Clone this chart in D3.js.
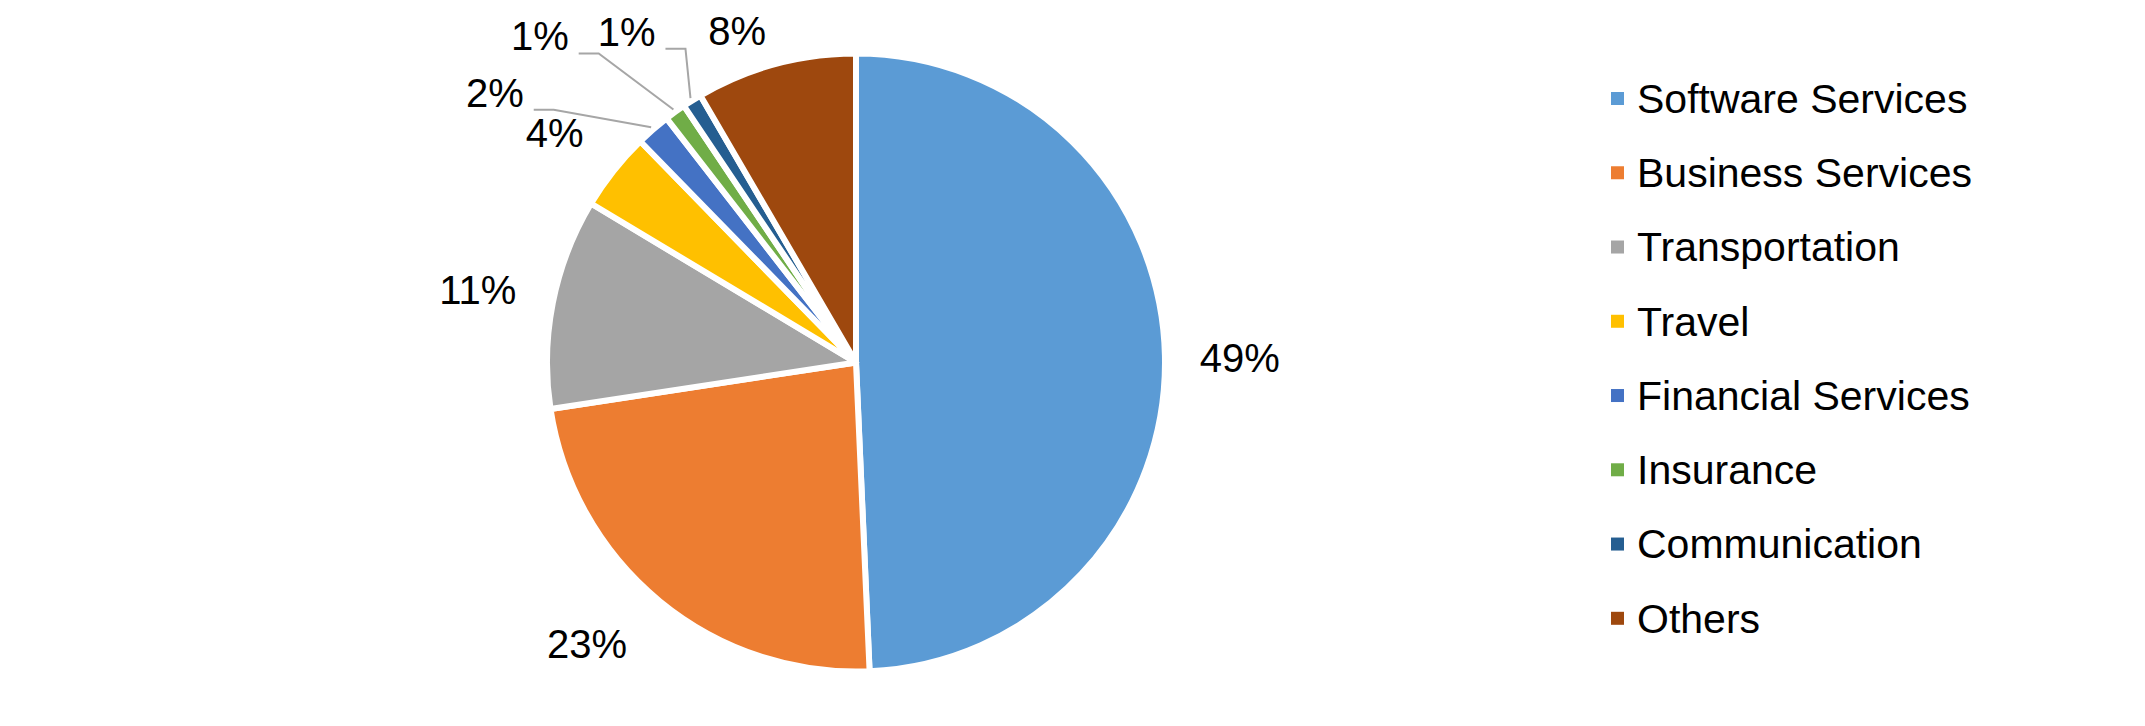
<!DOCTYPE html>
<html>
<head>
<meta charset="utf-8">
<script src="https://cdn.jsdelivr.net/npm/d3@7"></script>
<style>
	body{margin:0;background:#fff;}
	text{font-family:"Liberation Sans",Arial,Helvetica,sans-serif;fill:#000;}
</style>
</head>
<body>
<div id="chart"></div>
<script>
var categories = ["Software Services","Business Services","Transportation","Travel","Financial Services","Insurance","Communication","Others"];
var shares = [49.3,23.3,11.0,4.1,1.8,1.1,1.0,8.4];
var colors = ["#5B9BD5","#ED7D31","#A5A5A5","#FFC000","#4472C4","#70AD47","#255E91","#9E480E"];

// label spot relative to slice mid angle: [angle shift (deg), radius multiple]
var labelNudge = [[0.6,1.242],[4.3,1.26],[-0.3,1.246],[-1.0,1.227],[-12.2,1.459],[-8.3,1.47],[-2.7,1.303],[-4.6,1.141]];
var leaderFor = ["Financial Services","Insurance","Communication"];

var w = 2145, h = 726;
var cx = 856, cy = 362.5, r = 309;
var fontSize = 40;

var svg = d3.select("#chart")
	.append("svg")
	.attr("width",w)
	.attr("height",h);

var pieData = d3.pie()
	.sort(null)
	.value(function(d){ return d; })(shares);

var arc = d3.arc()
	.innerRadius(0)
	.outerRadius(r);

var pieG = svg.append("g")
	.attr("transform","translate(" + cx + "," + cy + ")");

pieG.selectAll(".slice")
	.data(pieData)
	.enter()
	.append("path")
	.attr("class","slice")
	.attr("d",arc)
	.attr("fill",function(d,i){ return colors[i]; })
	.attr("stroke","#fff")
	.attr("stroke-width",6)
	.attr("stroke-linejoin","round");

function polar(angle, rad){
	return [rad*Math.sin(angle), -rad*Math.cos(angle)];
}

// data labels
var labels = pieG.selectAll(".plabel")
	.data(pieData)
	.enter()
	.append("text")
	.attr("class","plabel")
	.attr("text-anchor","middle")
	.attr("dy","0.35em")
	.attr("font-size",fontSize)
	.each(function(d,i){
		var mid = (d.startAngle + d.endAngle)/2 + labelNudge[i][0]*Math.PI/180;
		var p = polar(mid, r*labelNudge[i][1]);
		d.lx = p[0];
		d.ly = p[1];
	})
	.attr("x",function(d){ return d.lx; })
	.attr("y",function(d){ return d.ly; })
	.text(function(d){ return Math.round(d.value) + "%"; });

// leader lines for the thin slices
labels.each(function(d,i){
	if(leaderFor.indexOf(categories[i]) < 0) return;
	var half = this.getComputedTextLength()/2;
	var x0 = d.lx + half + 10;
	var y0 = d.ly + 17;
	var end = polar((d.startAngle + d.endAngle)/2, r + 3);
	pieG.append("path")
		.attr("class","leader")
		.attr("d","M" + x0 + "," + y0 + "H" + (x0 + 20) + "L" + end[0] + "," + end[1])
		.attr("fill","none")
		.attr("stroke","#A6A6A6")
		.attr("stroke-width",2);
});

// legend
var legendY = d3.scalePoint()
	.domain(categories)
	.range([98.5,618.3]);

var legend = svg.append("g").attr("class","legend");

legend.selectAll("rect")
	.data(categories)
	.enter()
	.append("rect")
	.attr("x",1611)
	.attr("y",function(d){ return legendY(d) - 6.5; })
	.attr("width",13)
	.attr("height",13)
	.attr("fill",function(d,i){ return colors[i]; });

legend.selectAll("text")
	.data(categories)
	.enter()
	.append("text")
	.attr("x",1637)
	.attr("y",function(d){ return legendY(d); })
	.attr("dy","0.35em")
	.attr("font-size",41)
	.text(function(d){ return d; });
</script>
</body>
</html>
